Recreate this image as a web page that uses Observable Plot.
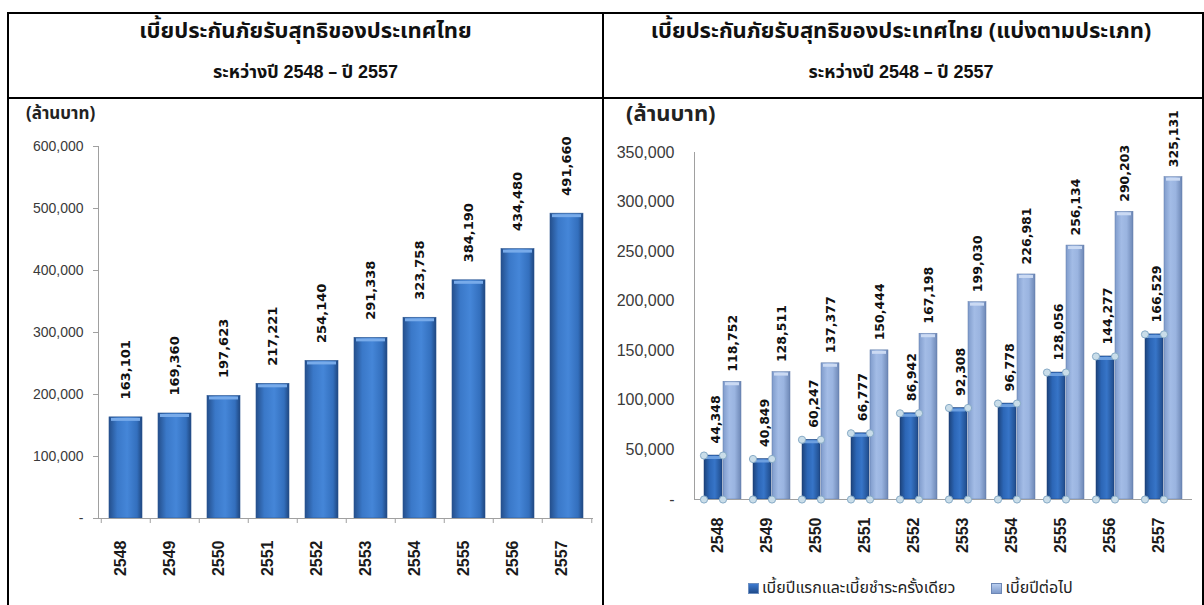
<!DOCTYPE html>
<html><head><meta charset="utf-8">
<script src="https://cdn.jsdelivr.net/npm/d3@7"></script>
<script src="https://cdn.jsdelivr.net/npm/@observablehq/plot@0.6"></script>
<style>
html,body{margin:0;padding:0;background:#fff;}
#page{position:relative;width:1204px;height:605px;overflow:hidden;background:#fff;
  font-family:Tahoma,"Noto Sans Thai","Noto Sans Thai UI","Loma","Garuda","Waree","Laksaman",sans-serif;}
.ln{position:absolute;background:#000;}
.title{position:absolute;text-align:center;font-weight:bold;color:#111;white-space:nowrap;line-height:1;}
.num{font-family:"Liberation Sans",Arial,sans-serif;}
.unit{position:absolute;font-weight:bold;color:#222;white-space:nowrap;line-height:1;}
.chart{position:absolute;}
.legend{position:absolute;white-space:nowrap;font-size:16px;color:#222;line-height:1;display:flex;align-items:center;}
.sw{display:inline-block;width:9px;height:9px;margin-right:3px;}
</style></head>
<body>
<svg width="0" height="0" style="position:absolute">
  <defs>
    <linearGradient id="gMain" x1="0" x2="1" y1="0" y2="0">
      <stop offset="0%" stop-color="#244f8c"/>
      <stop offset="25%" stop-color="#3a78c8"/>
      <stop offset="55%" stop-color="#4586d8"/>
      <stop offset="85%" stop-color="#336fbd"/>
      <stop offset="100%" stop-color="#1f4780"/>
    </linearGradient>
    <linearGradient id="gDark" x1="0" x2="1" y1="0" y2="0">
      <stop offset="0%" stop-color="#1c437c"/>
      <stop offset="30%" stop-color="#2c66b6"/>
      <stop offset="60%" stop-color="#3775c8"/>
      <stop offset="100%" stop-color="#1f4b8a"/>
    </linearGradient>
    <linearGradient id="gLight" x1="0" x2="1" y1="0" y2="0">
      <stop offset="0%" stop-color="#7f9bcb"/>
      <stop offset="35%" stop-color="#a3bce6"/>
      <stop offset="65%" stop-color="#9ab4e0"/>
      <stop offset="100%" stop-color="#6d87b5"/>
    </linearGradient>
  </defs>
</svg>
<div id="page">
  <div class="ln" style="left:7px;top:12px;width:1197px;height:2px"></div>
  <div class="ln" style="left:7px;top:97px;width:1197px;height:2px"></div>
  <div class="ln" style="left:7px;top:12px;width:2px;height:593px"></div>
  <div class="ln" style="left:602px;top:12px;width:2px;height:593px"></div>
  <div class="ln" style="left:1202px;top:12px;width:2px;height:593px"></div>

  <div class="title" id="t1a" style="left:9px;width:593px;top:21px;font-size:22px"></div>
  <div class="title" id="t1b" style="left:9px;width:593px;top:63px;font-size:18px"></div>
  <div class="title" id="t2a" style="left:604px;width:594px;top:21px;font-size:22px"></div>
  <div class="title" id="t2b" style="left:604px;width:594px;top:63px;font-size:18px"></div>

  <div class="unit" id="u1" style="left:26px;top:106px;font-size:17px"></div>
  <div class="unit" id="u2" style="left:626px;top:104px;font-size:22px"></div>

  <div class="chart" id="c1" style="left:9px;top:100px"></div>
  <div class="chart" id="c2" style="left:604px;top:100px"></div>

  <div class="legend" id="lg" style="left:748px;top:580px"></div>
</div>
<script>
// ---- data ----
const years = ["2548","2549","2550","2551","2552","2553","2554","2555","2556","2557"];
const totalPremium = [163101,169360,197623,217221,254140,291338,323758,384190,434480,491660];
const firstYearPremium = [44348,40849,60247,66777,86942,92308,96778,128056,144277,166529];
const renewalPremium = [118752,128511,137377,150444,167198,199030,226981,256134,290203,325131];
const leftTicks = [0,100000,200000,300000,400000,500000,600000];
const rightTicks = [0,50000,100000,150000,200000,250000,300000,350000];
const titleLeft = "เบี้ยประกันภัยรับสุทธิของประเทศไทย";
const titleRight = "เบี้ยประกันภัยรับสุทธิของประเทศไทย (แบ่งตามประเภท)";
const periodParts = ["ระหว่างปี ", "2548", " – ปี ", "2557"];
const unitLabel = "(ล้านบาท)";
const seriesNames = ["เบี้ยปีแรกและเบี้ยชำระครั้งเดียว", "เบี้ยปีต่อไป"];

// ---- text ----
document.getElementById("t1a").textContent = titleLeft;
document.getElementById("t2a").textContent = titleRight;
const periodHTML = `${periodParts[0]}<span class="num">${periodParts[1]}</span>${periodParts[2]}<span class="num">${periodParts[3]}</span>`;
document.getElementById("t1b").innerHTML = periodHTML;
document.getElementById("t2b").innerHTML = periodHTML;
document.getElementById("u1").textContent = unitLabel;
document.getElementById("u2").textContent = unitLabel;
document.getElementById("lg").innerHTML =
  `<span class="sw" style="background:linear-gradient(#3d7ad0,#1f4b8a);border:1px solid #6d8fc0"></span><span>${seriesNames[0]}</span>` +
  `<span class="sw" style="margin-left:36px;background:linear-gradient(#b8cdef,#7f9bcb);border:1px solid #6d87b5"></span><span>${seriesNames[1]}</span>`;

const fmt = d3.format(",");
const yFmt = d => d === 0 ? "-" : fmt(d);
const numFont = "Liberation Sans, Arial, sans-serif";
const boldFont = "DejaVu Sans, Verdana, sans-serif";
const yearFont = "Liberation Sans, Arial, sans-serif";

// ---- left chart ----
const leftData = years.map((y, i) => ({year: y, value: totalPremium[i]}));
const LW = 590, LH = 505, LML = 89, LMR = 6;
const lStep = (LW - LML - LMR) / years.length;
const left = Plot.plot({
  width: LW, height: LH,
  marginLeft: LML, marginRight: LMR, marginTop: 46, marginBottom: 87,
  x: {domain: years, paddingInner: 0.33, paddingOuter: 0.165, axis: null},
  y: {domain: [0, 600000], axis: null},
  style: {background: "transparent", overflow: "visible"},
  marks: [
    Plot.frame({anchor: "left", stroke: "#a0a0a0"}),
    Plot.axisY(leftTicks, {tickSize: 5, tickPadding: 10, tickFormat: yFmt, stroke: "#a0a0a0", fill: "#3a3a3a",
      fontSize: 14, fontFamily: numFont, label: null}),
    Plot.barY(leftData, {x: "year", y: "value", fill: "url(#gMain)", stroke: "#2a5590", strokeWidth: 0.6}),
    Plot.tickY(leftData, {x: "year", y: "value", stroke: "#78abea", strokeWidth: 3, dy: 2, insetLeft: 2, insetRight: 2}),
    Plot.ruleY([0], {stroke: "#a0a0a0"}),
    Plot.ruleX(leftData, {x: "year", y1: () => 0, y2: () => 0, insetBottom: -5, dx: -lStep / 2, stroke: "#a0a0a0"}),
    Plot.ruleX(leftData.slice(-1), {x: "year", y1: () => 0, y2: () => 0, insetBottom: -5, dx: lStep / 2, stroke: "#a0a0a0"}),
    Plot.text(leftData, {x: "year", y: "value", text: d => fmt(d.value), rotate: -90, textAnchor: "start",
      dy: -18, fontWeight: "bold", fontSize: 13, fontFamily: boldFont, fill: "#111"}),
    Plot.text(leftData, {x: "year", text: "year", frameAnchor: "bottom", rotate: -90, textAnchor: "end",
      dy: 22, fontWeight: "bold", fontSize: 16, fontFamily: yearFont, fill: "#1a1a1a"})
  ]
});
document.getElementById("c1").appendChild(left);

// ---- right chart ----
const rightData = years.map((y, i) => ({year: y, first: firstYearPremium[i], renewal: renewalPremium[i]}));
const RW = 598, RH = 505, RML = 90, RMR = 10;
const rStep = (RW - RML - RMR) / years.length;
const rPad = 0.237;
const rHalf = rStep * (1 - rPad) / 2;
const dotStyle = {r: 3.6, fill: "#c9dde9", stroke: "#86aac6", strokeWidth: 1};
const right = Plot.plot({
  width: RW, height: RH,
  marginLeft: RML, marginRight: RMR, marginTop: 52, marginBottom: 106,
  x: {domain: years, paddingInner: rPad, paddingOuter: rPad / 2, axis: null},
  y: {domain: [0, 350000], axis: null},
  style: {background: "transparent", overflow: "visible"},
  marks: [
    Plot.frame({anchor: "left", stroke: "#a0a0a0"}),
    Plot.axisY(rightTicks, {tickSize: 0, tickPadding: 20, tickFormat: yFmt, fill: "#3a3a3a",
      fontSize: 16, fontFamily: numFont, label: null}),
    Plot.barY(rightData, {x: "year", y: "renewal", fill: "url(#gLight)", insetLeft: rHalf, stroke: "#5f7aa8", strokeWidth: 0.5}),
    Plot.tickY(rightData, {x: "year", y: "renewal", stroke: "#cbdaf3", strokeWidth: 3, dy: 2, insetLeft: rHalf + 2, insetRight: 2}),
    Plot.barY(rightData, {x: "year", y: "first", fill: "url(#gDark)", insetRight: rHalf, stroke: "#1c3f75", strokeWidth: 0.5}),
    Plot.tickY(rightData, {x: "year", y: "first", stroke: "#6c9fe0", strokeWidth: 3, dy: 2, insetLeft: 2, insetRight: rHalf + 2}),
    Plot.ruleY([0], {stroke: "#a0a0a0"}),
    Plot.dot(rightData, {x: "year", y: "first", dx: -rHalf, ...dotStyle}),
    Plot.dot(rightData, {x: "year", y: "first", dx: 0, ...dotStyle}),
    Plot.dot(rightData, {x: "year", y: () => 0, dx: -rHalf, ...dotStyle}),
    Plot.dot(rightData, {x: "year", y: () => 0, dx: 0, ...dotStyle}),
    Plot.text(rightData, {x: "year", y: "first", text: d => fmt(d.first), rotate: -90, textAnchor: "start",
      dx: -7, dy: -12, fontWeight: "bold", fontSize: 12.5, fontFamily: boldFont, fill: "#111"}),
    Plot.text(rightData, {x: "year", y: "renewal", text: d => fmt(d.renewal), rotate: -90, textAnchor: "start",
      dx: 10, dy: -10, fontWeight: "bold", fontSize: 12.5, fontFamily: boldFont, fill: "#111"}),
    Plot.text(rightData, {x: "year", text: "year", frameAnchor: "bottom", rotate: -90, textAnchor: "end",
      dy: 18, fontWeight: "bold", fontSize: 16, fontFamily: yearFont, fill: "#1a1a1a"})
  ]
});
document.getElementById("c2").appendChild(right);
</script>
</body></html>
